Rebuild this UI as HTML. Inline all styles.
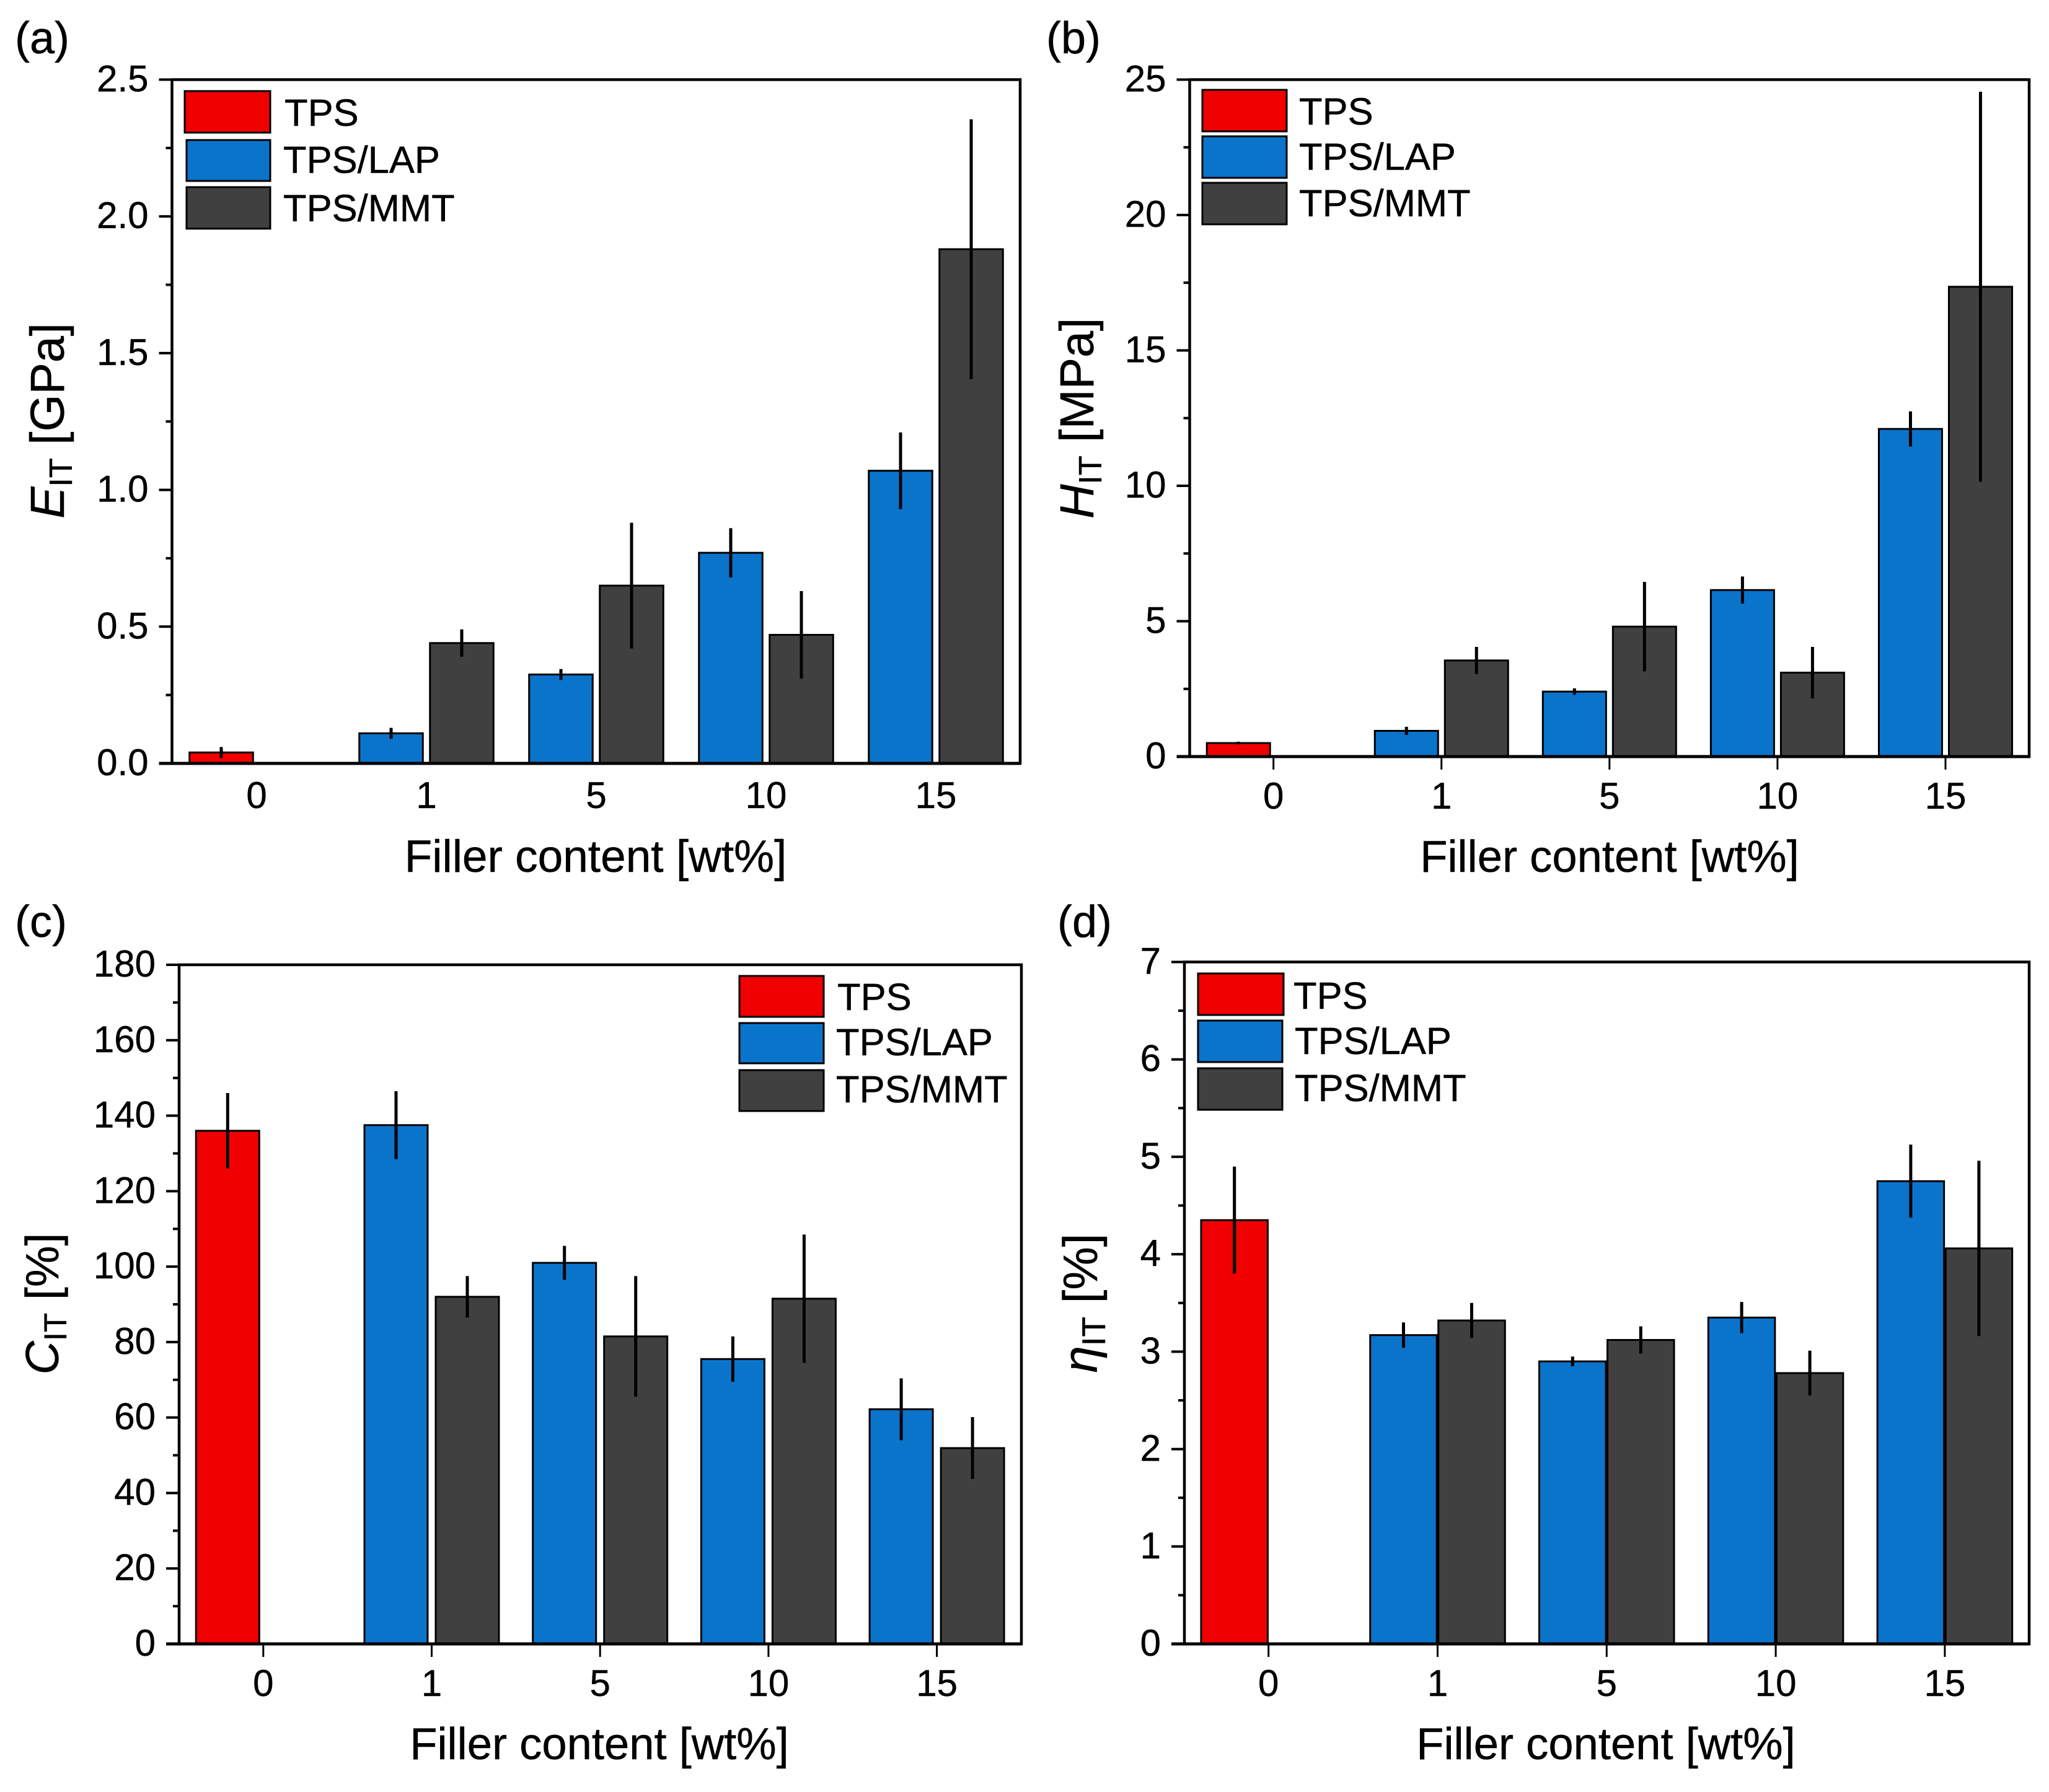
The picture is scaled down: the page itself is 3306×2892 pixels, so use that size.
<!DOCTYPE html>
<html lang="en">
<head>
<meta charset="utf-8">
<title>TPS nanocomposite nanoindentation properties</title>
<style>
html,body{margin:0;padding:0;background:#fff;}
svg{display:block;}
text{font-family:"Liberation Sans",Arial,sans-serif;fill:#000;stroke:#000;stroke-width:0.5px;}
</style>
</head>
<body>
<svg id="figure" xmlns="http://www.w3.org/2000/svg" width="3306" height="2892" viewBox="0 0 3306 2892">
<rect x="0" y="0" width="3306" height="2892" fill="#fff"/>

<g id="panel-a">
  <text x="24" y="86" font-size="72">(a)</text>
  <g id="plot-a"></g>
  <text x="961" y="1407" font-size="73" text-anchor="middle">Filler content [wt%]</text>
  <text transform="translate(103 679) rotate(-90)" font-size="77" text-anchor="middle"><tspan font-style="italic">E</tspan><tspan font-size="52" dy="13">IT</tspan><tspan dy="-13"> [GPa]</tspan></text>
  <g>
    <rect x="298" y="147" width="138" height="67" fill="#f00000" stroke="#000" stroke-width="3"/>
    <rect x="301" y="226" width="135" height="66" fill="#0a74cb" stroke="#000" stroke-width="3"/>
    <rect x="301" y="302" width="135" height="67" fill="#404040" stroke="#000" stroke-width="3"/>
    <text x="459" y="203" font-size="61.5">TPS</text>
    <text x="457" y="279" font-size="61.5">TPS/LAP</text>
    <text x="457" y="357" font-size="61.5">TPS/MMT</text>
  </g>
</g>

<g id="panel-b">
  <text x="1688" y="86" font-size="72">(b)</text>
  <g id="plot-b"></g>
  <text x="2597" y="1407" font-size="72.4" text-anchor="middle">Filler content [wt%]</text>
  <text transform="translate(1764 675) rotate(-90)" font-size="77" text-anchor="middle"><tspan font-style="italic">H</tspan><tspan font-size="52" dy="13">IT</tspan><tspan dy="-13"> [MPa]</tspan></text>
  <g>
    <rect x="1940" y="145" width="136" height="67" fill="#f00000" stroke="#000" stroke-width="3"/>
    <rect x="1940" y="220" width="136" height="67" fill="#0a74cb" stroke="#000" stroke-width="3"/>
    <rect x="1940" y="295" width="136" height="67" fill="#404040" stroke="#000" stroke-width="3"/>
    <text x="2096" y="201" font-size="61.5">TPS</text>
    <text x="2096" y="274" font-size="61.5">TPS/LAP</text>
    <text x="2096" y="349" font-size="61.5">TPS/MMT</text>
  </g>
</g>

<g id="panel-c">
  <text x="24" y="1512" font-size="72">(c)</text>
  <g id="plot-c"></g>
  <text x="967" y="2839" font-size="72.4" text-anchor="middle">Filler content [wt%]</text>
  <text transform="translate(94 2104) rotate(-90)" font-size="75" text-anchor="middle"><tspan font-style="italic">C</tspan><tspan font-size="51" dy="13">IT</tspan><tspan dy="-13"> [%]</tspan></text>
  <g>
    <rect x="1193" y="1575" width="136" height="66" fill="#f00000" stroke="#000" stroke-width="3"/>
    <rect x="1193" y="1651" width="136" height="65" fill="#0a74cb" stroke="#000" stroke-width="3"/>
    <rect x="1193" y="1727" width="136" height="66" fill="#404040" stroke="#000" stroke-width="3"/>
    <text x="1351" y="1630" font-size="61.5">TPS</text>
    <text x="1349" y="1703" font-size="61.5">TPS/LAP</text>
    <text x="1349" y="1779" font-size="61.5">TPS/MMT</text>
  </g>
</g>

<g id="panel-d">
  <text x="1706" y="1512" font-size="72">(d)</text>
  <g id="plot-d"></g>
  <text x="2591" y="2839" font-size="72.4" text-anchor="middle">Filler content [wt%]</text>
  <text transform="translate(1770 2103) rotate(-90)" font-size="78" text-anchor="middle"><tspan font-style="italic">η</tspan><tspan font-size="53" dy="13">IT</tspan><tspan dy="-13"> [%]</tspan></text>
  <g>
    <rect x="1933" y="1571" width="138" height="67" fill="#f00000" stroke="#000" stroke-width="3"/>
    <rect x="1933" y="1647" width="136" height="67" fill="#0a74cb" stroke="#000" stroke-width="3"/>
    <rect x="1933" y="1724" width="136" height="67" fill="#404040" stroke="#000" stroke-width="3"/>
    <text x="2087" y="1628" font-size="61.5">TPS</text>
    <text x="2089" y="1701" font-size="61.5">TPS/LAP</text>
    <text x="2089" y="1777" font-size="61.5">TPS/MMT</text>
  </g>
</g>
</svg>

<script>
// Shared categories
const categories = ['0', '1', '5', '10', '15'];

// Panel (a) E_IT [GPa]
const tpsValuesA = [0.04];
const tpsErrorsA = [0.02];
const lapValuesA = [0.11, 0.325, 0.77, 1.07];
const lapErrorsA = [0.02, 0.02, 0.09, 0.14];
const mmtValuesA = [0.44, 0.65, 0.47, 1.88];
const mmtErrorsA = [0.05, 0.23, 0.16, 0.475];
const yTickLabelsA = ['0.0', '0.5', '1.0', '1.5', '2.0', '2.5'];

// Panel (b) H_IT [MPa]
const tpsValuesB = [0.5];
const tpsErrorsB = [0.05];
const lapValuesB = [0.95, 2.4, 6.15, 12.1];
const lapErrorsB = [0.15, 0.12, 0.5, 0.65];
const mmtValuesB = [3.55, 4.8, 3.1, 17.35];
const mmtErrorsB = [0.5, 1.65, 0.95, 7.2];
const yTickLabelsB = ['0', '5', '10', '15', '20', '25'];

// Panel (c) C_IT [%]
const tpsValuesC = [136];
const tpsErrorsC = [10];
const lapValuesC = [137.5, 101, 75.5, 62.2];
const lapErrorsC = [9, 4.5, 6, 8.2];
const mmtValuesC = [92, 81.5, 91.5, 51.9];
const mmtErrorsC = [5.5, 16, 17, 8.2];
const yTickLabelsC = ['0', '20', '40', '60', '80', '100', '120', '140', '160', '180'];

// Panel (d) eta_IT [%]
const tpsValuesD = [4.35];
const tpsErrorsD = [0.55];
const lapValuesD = [3.17, 2.9, 3.35, 4.75];
const lapErrorsD = [0.13, 0.05, 0.16, 0.375];
const mmtValuesD = [3.32, 3.12, 2.78, 4.06];
const mmtErrorsD = [0.18, 0.14, 0.23, 0.9];
const yTickLabelsD = ['0', '1', '2', '3', '4', '5', '6', '7'];

const RED = '#f00000';
const BLUE = '#0a74cb';
const DARK = '#404040';
const NS = 'http://www.w3.org/2000/svg';

function makeSvg(tag, attrs, parent) {
  const el = document.createElementNS(NS, tag);
  for (const k in attrs) el.setAttribute(k, attrs[k]);
  parent.appendChild(el);
  return el;
}

function drawPanel(p) {
  const root = document.getElementById(p.target);
  const yMax = parseFloat(p.yLabels[p.yLabels.length - 1]);
  const yScale = function (v) { return p.bottom - (v / yMax) * (p.bottom - p.top); };
  const xScale = function (i) { return p.x0 + i * p.step; };

  function bar(cx, value, error, fill, name) {
    const yTop = yScale(value);
    const r = makeSvg('rect', { x: cx - p.barW / 2, y: yTop, width: p.barW, height: p.bottom - yTop, fill: fill, stroke: '#000', 'stroke-width': 3 }, root);
    
    
    const e = makeSvg('line', { x1: cx, x2: cx, y1: yScale(value + error), y2: yScale(value - error), stroke: '#000', 'stroke-width': 5 }, root);
    
    
  }

  bar(xScale(0) - p.offset, p.tps[0], p.tpsErr[0], RED, 'tps-0');
  p.lap.forEach(function (v, i) {
    bar(xScale(i + 1) - p.offset, v, p.lapErr[i], BLUE, 'lap-' + categories[i + 1]);
  });
  p.mmt.forEach(function (v, i) {
    bar(xScale(i + 1) + p.offset, v, p.mmtErr[i], DARK, 'mmt-' + categories[i + 1]);
  });

  // Frame
  const frame = makeSvg('rect', { x: p.left, y: p.top, width: p.right - p.left, height: p.bottom - p.top, fill: 'none', stroke: '#000', 'stroke-width': 4.5 }, root);
  
  
  const base = makeSvg('line', { x1: p.left - 21, x2: p.right, y1: p.bottom, y2: p.bottom, stroke: '#000', 'stroke-width': 5 }, root);
  
  

  // Y ticks
  const yStep = parseFloat(p.yLabels[1]) - parseFloat(p.yLabels[0]);
  p.yLabels.forEach(function (label) {
    const v = parseFloat(label);
    const y = yScale(v);
    const t = makeSvg('line', { x1: p.left - 21, x2: p.left, y1: y, y2: y, stroke: '#000', 'stroke-width': 4 }, root);
    
    
    const lab = makeSvg('text', { x: p.left - 38, y: y + 19, 'font-size': 60, 'text-anchor': 'end' }, root);
    lab.textContent = label;
    
    
    if (v < yMax) {
      const ym = yScale(v + yStep / 2);
      const m = makeSvg('line', { x1: p.left - 10, x2: p.left, y1: ym, y2: ym, stroke: '#000', 'stroke-width': 4 }, root);
      
      
    }
  });

  // X ticks
  categories.forEach(function (label, i) {
    const x = xScale(i);
    if (p.xTicks) {
      const t = makeSvg('line', { x1: x, x2: x, y1: p.bottom, y2: p.bottom + 21, stroke: '#000', 'stroke-width': 3 }, root);
      
      
    }
    const lab = makeSvg('text', { x: x, y: p.labelY, 'font-size': 60, 'text-anchor': 'middle' }, root);
    lab.textContent = label;
    
    
  });
}

drawPanel({ target: 'plot-a', left: 277.5, right: 1646, top: 128.5, bottom: 1232, x0: 414, step: 274, offset: 57, barW: 102.5, xTicks: false, labelY: 1304,
  yLabels: yTickLabelsA, tps: tpsValuesA, tpsErr: tpsErrorsA, lap: lapValuesA, lapErr: lapErrorsA, mmt: mmtValuesA, mmtErr: mmtErrorsA });
drawPanel({ target: 'plot-b', left: 1919.5, right: 3274, top: 128.5, bottom: 1221, x0: 2054.7, step: 271.07, offset: 56.5, barW: 102, xTicks: true, labelY: 1305,
  yLabels: yTickLabelsB, tps: tpsValuesB, tpsErr: tpsErrorsB, lap: lapValuesB, lapErr: lapErrorsB, mmt: mmtValuesB, mmtErr: mmtErrorsB });
drawPanel({ target: 'plot-c', left: 289, right: 1648, top: 1557, bottom: 2653, x0: 424.8, step: 271.7, offset: 57.5, barW: 102, xTicks: true, labelY: 2737,
  yLabels: yTickLabelsC, tps: tpsValuesC, tpsErr: tpsErrorsC, lap: lapValuesC, lapErr: lapErrorsC, mmt: mmtValuesC, mmtErr: mmtErrorsC });
drawPanel({ target: 'plot-d', left: 1911, right: 3274, top: 1552.5, bottom: 2653, x0: 2046.7, step: 272.8, offset: 55, barW: 107.5, xTicks: true, labelY: 2737,
  yLabels: yTickLabelsD, tps: tpsValuesD, tpsErr: tpsErrorsD, lap: lapValuesD, lapErr: lapErrorsD, mmt: mmtValuesD, mmtErr: mmtErrorsD });
</script>
</body>
</html>
